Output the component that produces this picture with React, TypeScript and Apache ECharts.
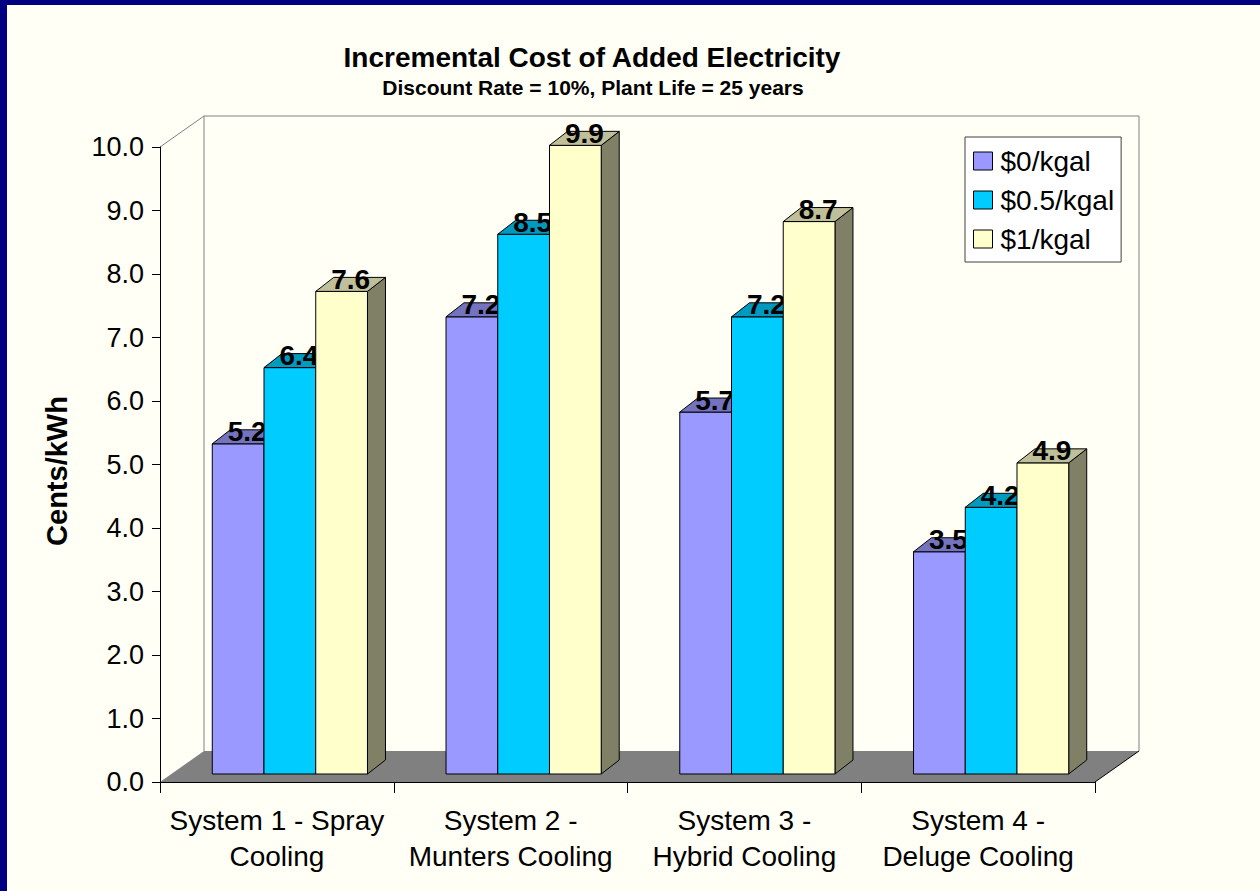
import React, { useEffect, useRef } from "react";
import * as echarts from "echarts";

// Chart data
const categories = [
  "System 1 - Spray\nCooling",
  "System 2 -\nMunters Cooling",
  "System 3 -\nHybrid Cooling",
  "System 4 -\nDeluge Cooling",
];
const seriesNames = ["$0/kgal", "$0.5/kgal", "$1/kgal"];
const cost0 = [5.2, 7.2, 5.7, 3.5];
const cost05 = [6.4, 8.5, 7.2, 4.2];
const cost1 = [7.6, 9.9, 8.7, 4.9];
const yTicks = { min: 0, max: 10, interval: 1 };

const FONT = "'Liberation Sans', Arial, Helvetica, sans-serif";

// Face colours: front, top (shaded), side (darker)
const palettes = [
  { front: "#9999FF", top: "#7373BF", side: "#4D4D80" },
  { front: "#00CCFF", top: "#0099BF", side: "#006680" },
  { front: "#FFFFCC", top: "#BFBF99", side: "#808066" },
];

// 3D geometry (pixels)
const WALL_DX = 44;
const WALL_DY = -31;
const BAR_DX = 18;
const BAR_DY = -14;
const PLANE_DX = 13;
const PLANE_DY = -8;
const GROUP_FRACTION = 0.664;

function barRenderer(index: number) {
  const pal = palettes[index];
  return (params: any, api: any) => {
    const cat = api.value(0);
    const val = api.value(1);
    const base = api.coord([cat, 0]);
    const top = api.coord([cat, val]);
    const band = api.size([1, 0])[0];
    const groupW = band * GROUP_FRACTION;
    const w = groupW / 3;
    const x0 = base[0] - groupW / 2 + index * w + PLANE_DX;
    const x1 = x0 + w;
    const yB = base[1] + PLANE_DY;
    const yT = top[1] + PLANE_DY;
    const stroke = { stroke: "#000", lineWidth: 1 };
    return {
      type: "group",
      children: [
        {
          type: "polygon",
          shape: {
            points: [
              [x1, yT],
              [x1 + BAR_DX, yT + BAR_DY],
              [x1 + BAR_DX, yB + BAR_DY],
              [x1, yB],
            ],
          },
          style: { fill: pal.side, ...stroke },
        },
        {
          type: "rect",
          shape: { x: x0, y: yT, width: w, height: yB - yT },
          style: { fill: pal.front, ...stroke },
        },
        {
          type: "polygon",
          shape: {
            points: [
              [x0, yT],
              [x1, yT],
              [x1 + BAR_DX, yT + BAR_DY],
              [x0 + BAR_DX, yT + BAR_DY],
            ],
          },
          style: { fill: pal.top, ...stroke },
        },
        {
          type: "text",
          x: (x0 + x1) / 2 + BAR_DX / 2,
          y: yT - 12,
          style: {
            text: val.toFixed(1),
            fontFamily: FONT,
            fontSize: 28,
            fontWeight: "bold",
            fill: "#000",
            align: "center",
            verticalAlign: "middle",
          },
        },
      ],
    };
  };
}

// Back wall outline and grey floor of the 3D plot area
function wallRenderer(params: any) {
  const cs = params.coordSys;
  const x = cs.x;
  const y = cs.y;
  const w = cs.width;
  const h = cs.height;
  const grey = { stroke: "#808080", lineWidth: 1, fill: null };
  return {
    type: "group",
    children: [
      {
        type: "polygon",
        shape: {
          points: [
            [x, y + h],
            [x + w, y + h],
            [x + w + WALL_DX, y + h + WALL_DY],
            [x + WALL_DX, y + h + WALL_DY],
          ],
        },
        style: { fill: "#808080" },
      },
      {
        type: "line",
        shape: { x1: x + w, y1: y + h, x2: x + w + WALL_DX, y2: y + h + WALL_DY },
        style: { stroke: "#000", lineWidth: 1 },
      },
      {
        type: "polyline",
        shape: {
          points: [
            [x, y],
            [x + WALL_DX, y + WALL_DY],
            [x + w + WALL_DX, y + WALL_DY],
            [x + w + WALL_DX, y + h + WALL_DY],
          ],
        },
        style: grey,
      },
      {
        type: "line",
        shape: { x1: x + WALL_DX, y1: y + WALL_DY, x2: x + WALL_DX, y2: y + h + WALL_DY },
        style: grey,
      },
    ],
  };
}

export default function App() {
  const ref = useRef<HTMLDivElement>(null);

  useEffect(() => {
    if (!ref.current) return;
    const chart = echarts.init(ref.current, null, { renderer: "svg" });
    const values = [cost0, cost05, cost1];

    chart.setOption({
      animation: false,
      backgroundColor: "#FFFFF5",
      grid: { left: 160, top: 147, right: 165, bottom: 109, containLabel: false },
      xAxis: {
        type: "category",
        data: categories,
        z: 5,
        axisLine: { show: true, lineStyle: { color: "#000", width: 1 } },
        axisTick: { show: true, length: 11, lineStyle: { color: "#000" } },
        axisLabel: {
          fontFamily: FONT,
          fontSize: 28,
          lineHeight: 36,
          color: "#000",
          margin: 20,
          interval: 0,
        },
      },
      yAxis: {
        type: "value",
        min: yTicks.min,
        max: yTicks.max,
        interval: yTicks.interval,
        z: 5,
        axisLine: { show: true, lineStyle: { color: "#000", width: 1 } },
        axisTick: { show: true, length: 8, lineStyle: { color: "#000" } },
        splitLine: { show: false },
        axisLabel: {
          fontFamily: FONT,
          fontSize: 27,
          color: "#000",
          margin: 16,
          formatter: (v: number) => v.toFixed(1),
        },
      },
      legend: {
        orient: "vertical",
        left: 965,
        top: 137,
        padding: [10, 7, 9, 8],
        itemGap: 11,
        itemWidth: 19,
        itemHeight: 18,
        icon: "rect",
        backgroundColor: "#FFFFFF",
        borderColor: "#404040",
        borderWidth: 1,
        borderRadius: 0,
        data: seriesNames,
        itemStyle: { borderColor: "#000", borderWidth: 1 },
        textStyle: { fontFamily: FONT, fontSize: 28, color: "#000", padding: [0, 0, 0, 3] },
      },
      graphic: [
        {
          type: "text",
          x: 592,
          y: 57,
          style: {
            text: "Incremental Cost of Added Electricity",
            fontFamily: FONT,
            fontSize: 28,
            fontWeight: "bold",
            fill: "#000",
            align: "center",
            verticalAlign: "middle",
          },
        },
        {
          type: "text",
          x: 593,
          y: 87,
          style: {
            text: "Discount Rate = 10%, Plant Life = 25 years",
            fontFamily: FONT,
            fontSize: 21,
            fontWeight: "bold",
            fill: "#000",
            align: "center",
            verticalAlign: "middle",
          },
        },
        {
          type: "text",
          x: 57,
          y: 471,
          rotation: Math.PI / 2,
          style: {
            text: "Cents/kWh",
            fontFamily: FONT,
            fontSize: 29,
            fontWeight: "bold",
            fill: "#000",
            align: "center",
            verticalAlign: "middle",
          },
        },
        // navy slide frame on the left and top edges
        { type: "rect", z: 100, shape: { x: 0, y: 0, width: 1260, height: 5 }, style: { fill: "#000080" } },
        { type: "rect", z: 100, shape: { x: 0, y: 0, width: 7, height: 891 }, style: { fill: "#000080" } },
      ],
      series: [
        {
          type: "custom",
          name: "wall",
          z: 1,
          silent: true,
          clip: false,
          data: [[0, 0]],
          renderItem: wallRenderer,
        },
        ...seriesNames.map((name, i) => ({
          type: "custom",
          name,
          z: 3,
          clip: false,
          itemStyle: { color: palettes[i].front, borderColor: "#000", borderWidth: 1 },
          data: values[i].map((v, c) => [c, v]),
          encode: { x: 0, y: 1 },
          renderItem: barRenderer(i),
        })),
      ],
    });

    return () => chart.dispose();
  }, []);

  return (
    <div
      ref={ref}
      style={{ position: "fixed", left: 0, top: 0, width: 1260, height: 891 }}
    />
  );
}
